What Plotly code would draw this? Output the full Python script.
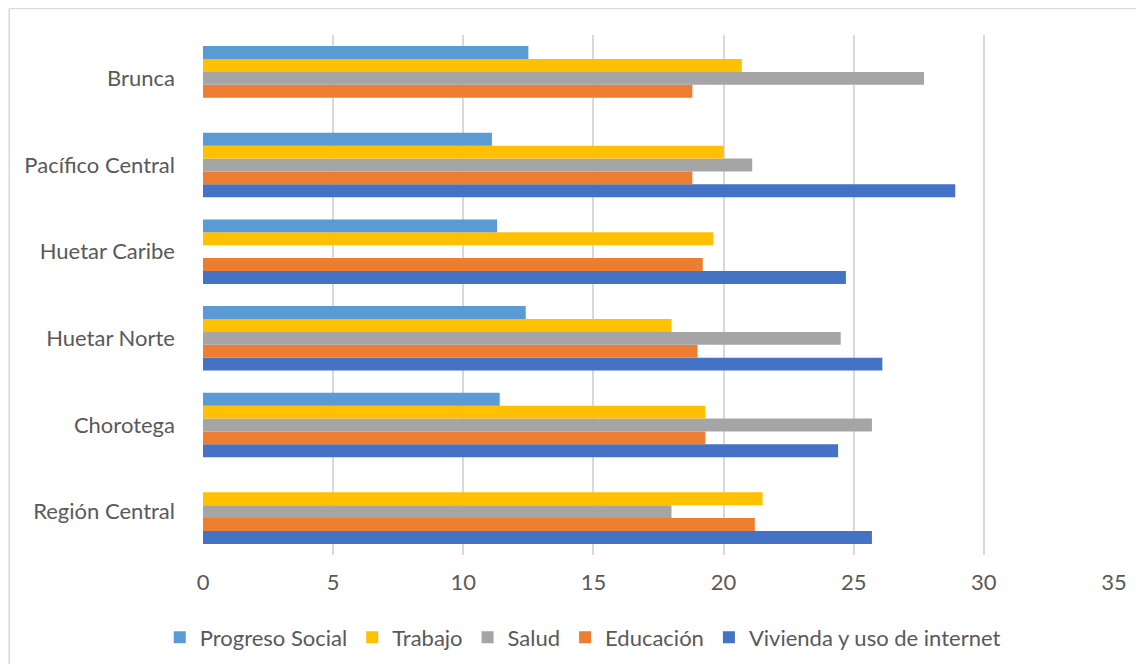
import plotly.graph_objects as go

categories = ["Región Central", "Chorotega", "Huetar Norte", "Huetar Caribe", "Pacífico Central", "Brunca"]
progreso_social = [None, 11.4, 12.4, 11.3, 11.1, 12.5]
trabajo = [21.5, 19.3, 18.0, 19.6, 20.0, 20.7]
salud = [18.0, 25.7, 24.5, None, 21.1, 27.7]
educacion = [21.2, 19.3, 19.0, 19.2, 18.8, 18.8]
vivienda = [25.7, 24.4, 26.1, 24.7, 28.9, None]
x_ticks = [0, 5, 10, 15, 20, 25, 30, 35]

series = [
    ("Vivienda y uso de internet", vivienda, "#4472C4"),
    ("Educación", educacion, "#ED7D31"),
    ("Salud", salud, "#A5A5A5"),
    ("Trabajo", trabajo, "#FFC000"),
    ("Progreso Social", progreso_social, "#5B9BD5"),
]

fig = go.Figure()
for name, vals, color in series:
    fig.add_trace(go.Bar(y=categories, x=vals, name=name, orientation="h",
                         marker=dict(color=color, line=dict(width=0))))

# page has an 8px body margin; figure sized to fit inside the window
W, H = 1131, 656
L, R, T, B = 195, 22, 27, 109
pw, ph = W - L - R, H - T - B

def px(x):
    return (x - L) / pw

def py(y):
    return (H - B - y) / ph

fig.update_layout(
    width=W, height=H,
    margin=dict(l=L, r=R, t=T, b=B),
    barmode="group", bargap=0.255, bargroupgap=0,
    paper_bgcolor="white", plot_bgcolor="white",
    font=dict(family="Lato, Open Sans, sans-serif", size=22, color="#595959"),
    xaxis=dict(range=[0, 35], tickvals=x_ticks, showgrid=True, gridcolor="#D9D9D9",
               gridwidth=1.5, zeroline=False, showline=False, ticks="",
               ticklabelstandoff=12, tickfont=dict(size=22, color="#595959")),
    yaxis=dict(showgrid=False, zeroline=False, showline=False, ticks="",
               ticklabelstandoff=27, tickfont=dict(size=22, color="#595959")),
    legend=dict(orientation="h", traceorder="reversed", x=px(576), xanchor="center",
                yref="container", y=1 - 629.5 / H, yanchor="middle",
                font=dict(size=22, color="#595959"), itemwidth=30),
    showlegend=True,
    shapes=[
        dict(type="line", xref="paper", yref="paper", x0=px(0.5), x1=px(W), y0=py(0.5), y1=py(0.5),
             line=dict(color="#D9D9D9", width=1.5), layer="below"),
        dict(type="line", xref="paper", yref="paper", x0=px(0.5), x1=px(0.5), y0=py(0.5), y1=py(H),
             line=dict(color="#D9D9D9", width=1.5), layer="below"),
    ],
)

fig.write_html("out.html")
